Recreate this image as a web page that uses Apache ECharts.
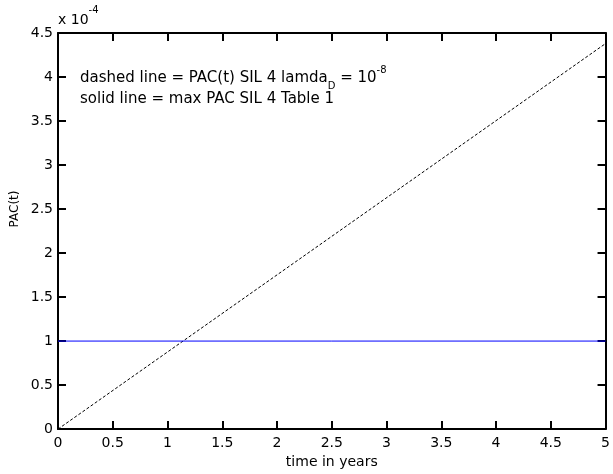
<!DOCTYPE html>
<html>
<head>
<meta charset="utf-8">
<script src="https://cdn.jsdelivr.net/npm/echarts@6/dist/echarts.min.js"></script>
<style>
  html, body { margin: 0; padding: 0; background: #fff; }
  #chart { width: 613px; height: 474px; }
</style>
</head>
<body>
<div id="chart"></div>
<script>
  // time in years, PAC in units of 1e-4
  var timeYears = [0, 5]
  var pacDashed = [0, 4.38]
  var pacMax = [1, 1]

  var font = 'DejaVu Sans, Liberation Sans, Arial, sans-serif'
  var chart = echarts.init(document.getElementById('chart'))

  function pairs (xs, ys) {
    return xs.map(function (x, i) { return [x, ys[i]] })
  }

  // the four sides of the box, ticks pointing inwards
  function frameAxis (extra) {
    return Object.assign({
      type: 'value',
      axisLine: { show: true, onZero: false, lineStyle: { color: '#000', width: 2 } },
      axisTick: { show: true, inside: true, length: 8, lineStyle: { color: '#000', width: 2 } },
      splitLine: { show: false },
      axisLabel: { show: false }
    }, extra)
  }

  var label = { show: true, color: '#000', fontSize: 14, fontFamily: font }

  chart.setOption({
    animation: false,
    backgroundColor: '#fff',
    grid: { left: 58, top: 33, right: 5, bottom: 43 },
    xAxis: [
      frameAxis({ min: 0, max: 5, interval: 0.5, position: 'bottom',
        axisLabel: Object.assign({ margin: 7 }, label),
        name: 'time in years', nameLocation: 'middle', nameGap: 25,
        nameTextStyle: { color: '#000', fontSize: 14, fontFamily: font } }),
      frameAxis({ min: 0, max: 5, interval: 0.5, position: 'top' })
    ],
    yAxis: [
      frameAxis({ min: 0, max: 4.5, interval: 0.5, position: 'left',
        axisLabel: Object.assign({ margin: 5 }, label) }),
      frameAxis({ min: 0, max: 4.5, interval: 0.5, position: 'right' })
    ],
    series: [{
      type: 'line', data: pairs(timeYears, pacDashed), symbol: 'none',
      lineStyle: { color: '#000', width: 1, type: [3, 2] }
    }, {
      type: 'line', data: pairs(timeYears, pacMax), symbol: 'none',
      lineStyle: { color: '#0000ff', width: 1 }
    }],
    graphic: [{
      type: 'text', x: 15, y: 209, rotation: Math.PI / 2,
      style: {
        text: 'PAC(t)', fontSize: 12, fontFamily: font, fill: '#000',
        align: 'center', verticalAlign: 'middle'
      }
    }, {
      type: 'text', left: 58, top: 5,
      style: {
        text: '{n|x 10}{sup|-4}',
        rich: {
          n: { fontSize: 14, fontFamily: font, fill: '#000', verticalAlign: 'bottom', lineHeight: 22 },
          sup: { fontSize: 10, fontFamily: font, fill: '#000', verticalAlign: 'top', lineHeight: 22 }
        }
      }
    }, {
      type: 'text', left: 80, top: 65,
      style: {
        text: '{n|dashed line = PAC(t) SIL 4 lamda}{sub|D}{n| = 10}{sup|-8}',
        rich: {
          n: { fontSize: 15, fontFamily: font, fill: '#000', lineHeight: 26 },
          sub: { fontSize: 10, fontFamily: font, fill: '#000', verticalAlign: 'bottom', lineHeight: 26, padding: [8, 0, 0, 0] },
          sup: { fontSize: 10, fontFamily: font, fill: '#000', verticalAlign: 'top', lineHeight: 26, padding: [0, 0, 8, 0] }
        }
      }
    }, {
      type: 'text', left: 80, top: 92,
      style: {
        text: 'solid line = max PAC SIL 4 Table 1',
        fontSize: 15, fontFamily: font, fill: '#000'
      }
    }]
  })
</script>
</body>
</html>
